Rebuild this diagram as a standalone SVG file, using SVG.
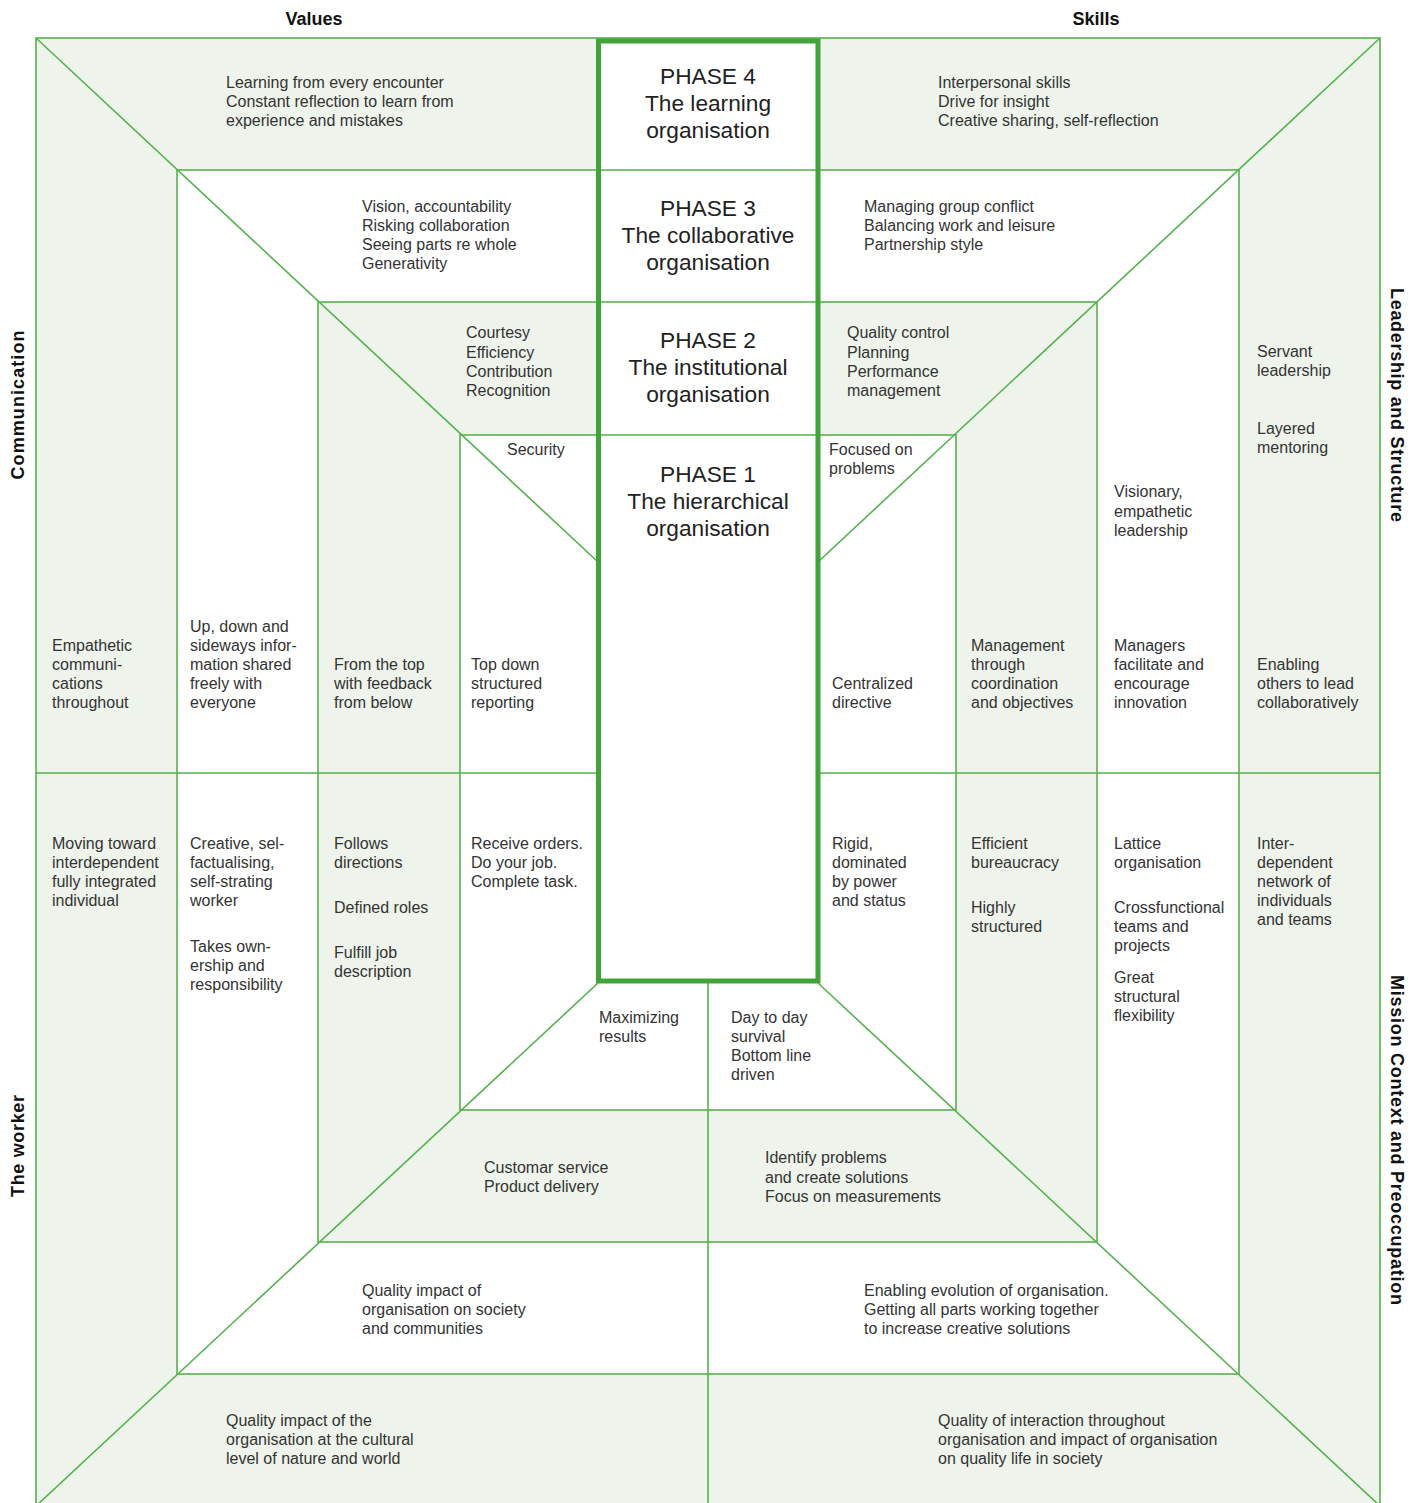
<svg xmlns="http://www.w3.org/2000/svg" width="1418" height="1503" viewBox="0 0 1418 1503">
<style>
.g{fill:#eef4eb;stroke:#55b24d;stroke-width:1.6}
.w{fill:#ffffff;stroke:#55b24d;stroke-width:1.6}
.ln{stroke:#55b24d;stroke-width:1.6;fill:none}
.thick{fill:none;stroke:#41a339;stroke-width:5}
text{font-family:"Liberation Sans",Arial,Helvetica,sans-serif;fill:#333333}
.t{font-size:16px}
.p{font-size:22.7px;text-anchor:middle;fill:#222222}
.h{font-size:18px;font-weight:bold;fill:#111111}
</style>
<rect width="1418" height="1503" fill="#ffffff"/>
<g id="rings">
<rect id="ring1" class="g" x="36" y="38" width="1344" height="1468"/>
<rect id="ring2" class="w" x="177" y="170" width="1062" height="1204"/>
<rect id="ring3" class="g" x="318" y="302" width="779" height="940"/>
<rect id="ring4" class="w" x="460" y="435" width="496" height="675"/>
<rect id="center-fill" x="598.5" y="41" width="219.5" height="940" fill="#ffffff"/>
</g>
<g id="connectors">
<line class="ln" x1="598" y1="170" x2="818" y2="170"/>
<line class="ln" x1="598" y1="302" x2="818" y2="302"/>
<line class="ln" x1="598" y1="435" x2="818" y2="435"/>
<line class="ln" x1="36" y1="773" x2="598" y2="773"/>
<line class="ln" x1="818" y1="773" x2="1380" y2="773"/>
<line class="ln" x1="708" y1="983" x2="708" y2="1506"/>
<line class="ln" x1="36" y1="38" x2="598" y2="562"/>
<line class="ln" x1="1380" y1="38" x2="818" y2="562"/>
<line class="ln" x1="36" y1="1506" x2="598" y2="983"/>
<line class="ln" x1="1380" y1="1506" x2="818" y2="983"/>
<rect class="thick" x="598.5" y="41" width="219.5" height="940"/>
</g>
<g id="headings">
<text class="h" x="314" y="25" text-anchor="middle">Values</text>
<text class="h" x="1096" y="25" text-anchor="middle">Skills</text>
<text class="h" transform="translate(24,405) rotate(-90)" text-anchor="middle" textLength="149" lengthAdjust="spacing">Communication</text>
<text class="h" transform="translate(24,1146) rotate(-90)" text-anchor="middle" textLength="102" lengthAdjust="spacing">The worker</text>
<text class="h" transform="translate(1391,405) rotate(90)" text-anchor="middle" textLength="234" lengthAdjust="spacing">Leadership and Structure</text>
<text class="h" transform="translate(1391,1140) rotate(90)" text-anchor="middle" textLength="330" lengthAdjust="spacing">Mission Context and Preoccupation</text>
</g>
<g id="phases">
<g id="phase4"><text class="p" x="708" y="84">PHASE 4</text><text class="p" x="708" y="111">The learning</text><text class="p" x="708" y="138">organisation</text></g>
<g id="phase3"><text class="p" x="708" y="216">PHASE 3</text><text class="p" x="708" y="243">The collaborative</text><text class="p" x="708" y="270">organisation</text></g>
<g id="phase2"><text class="p" x="708" y="348">PHASE 2</text><text class="p" x="708" y="375">The institutional</text><text class="p" x="708" y="402">organisation</text></g>
<g id="phase1"><text class="p" x="708" y="482">PHASE 1</text><text class="p" x="708" y="509">The hierarchical</text><text class="p" x="708" y="536">organisation</text></g>
</g>
<g id="top-texts">
<text class="t" x="226" y="88">Learning from every encounter</text>
<text class="t" x="226" y="107">Constant reflection to learn from</text>
<text class="t" x="226" y="126">experience and mistakes</text>
<text class="t" x="938" y="88">Interpersonal skills</text>
<text class="t" x="938" y="107">Drive for insight</text>
<text class="t" x="938" y="126">Creative sharing, self-reflection</text>
<text class="t" x="362" y="212">Vision, accountability</text>
<text class="t" x="362" y="231">Risking collaboration</text>
<text class="t" x="362" y="250">Seeing parts re whole</text>
<text class="t" x="362" y="269">Generativity</text>
<text class="t" x="864" y="212">Managing group conflict</text>
<text class="t" x="864" y="231">Balancing work and leisure</text>
<text class="t" x="864" y="250">Partnership style</text>
<text class="t" x="466" y="338">Courtesy</text>
<text class="t" x="466" y="358">Efficiency</text>
<text class="t" x="466" y="377">Contribution</text>
<text class="t" x="466" y="396">Recognition</text>
<text class="t" x="847" y="338">Quality control</text>
<text class="t" x="847" y="358">Planning</text>
<text class="t" x="847" y="377">Performance</text>
<text class="t" x="847" y="396">management</text>
<text class="t" x="507" y="455">Security</text>
<text class="t" x="829" y="455">Focused on</text>
<text class="t" x="829" y="474">problems</text>
</g>
<g id="upper-columns">
<text class="t" x="52" y="651">Empathetic</text>
<text class="t" x="52" y="670">communi-</text>
<text class="t" x="52" y="689">cations</text>
<text class="t" x="52" y="708">throughout</text>
<text class="t" x="190" y="632">Up, down and</text>
<text class="t" x="190" y="651">sideways infor-</text>
<text class="t" x="190" y="670">mation shared</text>
<text class="t" x="190" y="689">freely with</text>
<text class="t" x="190" y="708">everyone</text>
<text class="t" x="334" y="670">From the top</text>
<text class="t" x="334" y="689">with feedback</text>
<text class="t" x="334" y="708">from below</text>
<text class="t" x="471" y="670">Top down</text>
<text class="t" x="471" y="689">structured</text>
<text class="t" x="471" y="708">reporting</text>
<text class="t" x="832" y="689">Centralized</text>
<text class="t" x="832" y="708">directive</text>
<text class="t" x="971" y="651">Management</text>
<text class="t" x="971" y="670">through</text>
<text class="t" x="971" y="689">coordination</text>
<text class="t" x="971" y="708">and objectives</text>
<text class="t" x="1114" y="497">Visionary,</text>
<text class="t" x="1114" y="517">empathetic</text>
<text class="t" x="1114" y="536">leadership</text>
<text class="t" x="1114" y="651">Managers</text>
<text class="t" x="1114" y="670">facilitate and</text>
<text class="t" x="1114" y="689">encourage</text>
<text class="t" x="1114" y="708">innovation</text>
<text class="t" x="1257" y="357">Servant</text>
<text class="t" x="1257" y="376">leadership</text>
<text class="t" x="1257" y="434">Layered</text>
<text class="t" x="1257" y="453">mentoring</text>
<text class="t" x="1257" y="670">Enabling</text>
<text class="t" x="1257" y="689">others to lead</text>
<text class="t" x="1257" y="708">collaboratively</text>
</g>
<g id="lower-columns">
<text class="t" x="52" y="849">Moving toward</text>
<text class="t" x="52" y="868">interdependent</text>
<text class="t" x="52" y="887">fully integrated</text>
<text class="t" x="52" y="906">individual</text>
<text class="t" x="190" y="849">Creative, sel-</text>
<text class="t" x="190" y="868">factualising,</text>
<text class="t" x="190" y="887">self-strating</text>
<text class="t" x="190" y="906">worker</text>
<text class="t" x="190" y="952">Takes own-</text>
<text class="t" x="190" y="971">ership and</text>
<text class="t" x="190" y="990">responsibility</text>
<text class="t" x="334" y="849">Follows</text>
<text class="t" x="334" y="868">directions</text>
<text class="t" x="334" y="913">Defined roles</text>
<text class="t" x="334" y="958">Fulfill job</text>
<text class="t" x="334" y="977">description</text>
<text class="t" x="471" y="849">Receive orders.</text>
<text class="t" x="471" y="868">Do your job.</text>
<text class="t" x="471" y="887">Complete task.</text>
<text class="t" x="832" y="849">Rigid,</text>
<text class="t" x="832" y="868">dominated</text>
<text class="t" x="832" y="887">by power</text>
<text class="t" x="832" y="906">and status</text>
<text class="t" x="971" y="849">Efficient</text>
<text class="t" x="971" y="868">bureaucracy</text>
<text class="t" x="971" y="913">Highly</text>
<text class="t" x="971" y="932">structured</text>
<text class="t" x="1114" y="849">Lattice</text>
<text class="t" x="1114" y="868">organisation</text>
<text class="t" x="1114" y="913">Crossfunctional</text>
<text class="t" x="1114" y="932">teams and</text>
<text class="t" x="1114" y="951">projects</text>
<text class="t" x="1114" y="983">Great</text>
<text class="t" x="1114" y="1002">structural</text>
<text class="t" x="1114" y="1021">flexibility</text>
<text class="t" x="1257" y="849">Inter-</text>
<text class="t" x="1257" y="868">dependent</text>
<text class="t" x="1257" y="887">network of</text>
<text class="t" x="1257" y="906">individuals</text>
<text class="t" x="1257" y="925">and teams</text>
</g>
<g id="bottom-texts">
<text class="t" x="599" y="1023">Maximizing</text>
<text class="t" x="599" y="1042">results</text>
<text class="t" x="731" y="1023">Day to day</text>
<text class="t" x="731" y="1042">survival</text>
<text class="t" x="731" y="1061">Bottom line</text>
<text class="t" x="731" y="1080">driven</text>
<text class="t" x="484" y="1173">Customar service</text>
<text class="t" x="484" y="1192">Product delivery</text>
<text class="t" x="765" y="1163">Identify problems</text>
<text class="t" x="765" y="1183">and create solutions</text>
<text class="t" x="765" y="1202">Focus on measurements</text>
<text class="t" x="362" y="1296">Quality impact of</text>
<text class="t" x="362" y="1315">organisation on society</text>
<text class="t" x="362" y="1334">and communities</text>
<text class="t" x="864" y="1296">Enabling evolution of organisation.</text>
<text class="t" x="864" y="1315">Getting all parts working together</text>
<text class="t" x="864" y="1334">to increase creative solutions</text>
<text class="t" x="226" y="1426">Quality impact of the</text>
<text class="t" x="226" y="1445">organisation at the cultural</text>
<text class="t" x="226" y="1464">level of nature and world</text>
<text class="t" x="938" y="1426">Quality of interaction throughout</text>
<text class="t" x="938" y="1445">organisation and impact of organisation</text>
<text class="t" x="938" y="1464">on quality life in society</text>
</g>
</svg>
